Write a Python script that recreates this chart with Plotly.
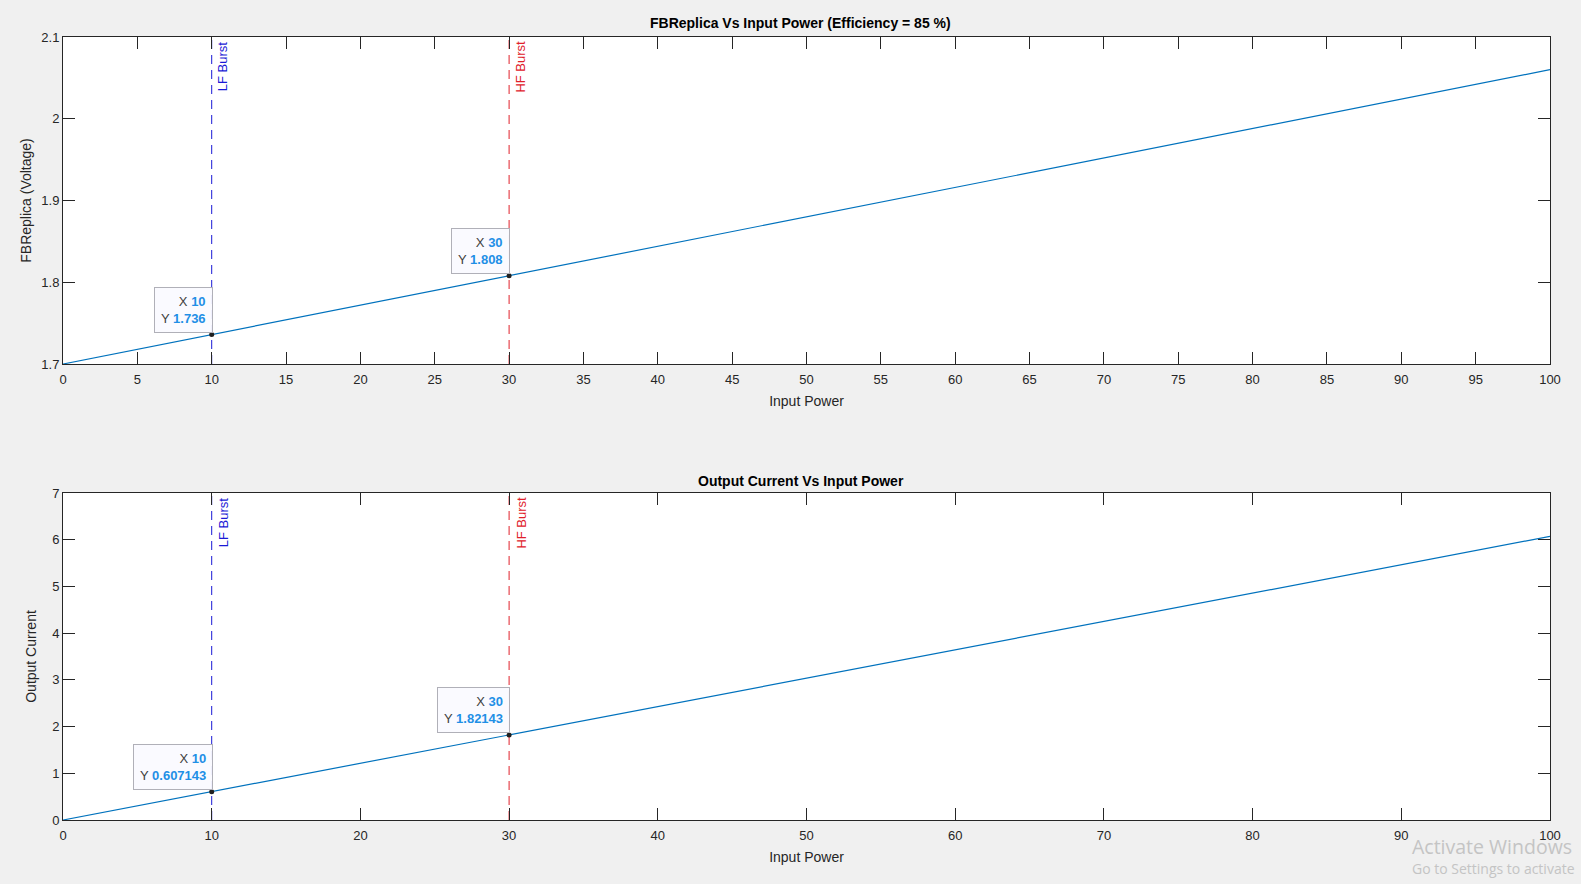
import plotly.graph_objects as go

# ---- data ----
input_power = [0, 10, 30, 100]
fb_replica = [1.7, 1.736, 1.808, 2.06]
output_current = [0, 0.607143, 1.82143, 6.07143]

tip_x = [10, 30]
tip_fb = [1.736, 1.808]
tip_fb_txt = ["1.736", "1.808"]
tip_cur = [0.607143, 1.82143]
tip_cur_txt = ["0.607143", "1.82143"]

burst_x = [10, 30]
burst_names = ["LF Burst", "HF Burst"]
burst_colors = ["#1a1ad6", "#e0202a"]

x_ticks_top = list(range(0, 101, 5))
x_ticks_bot = list(range(0, 101, 10))
y_ticks_top = [1.7, 1.8, 1.9, 2.0, 2.1]
y_tick_labels_top = ["1.7", "1.8", "1.9", "2", "2.1"]
y_ticks_bot = [0, 1, 2, 3, 4, 5, 6, 7]

LINE = "#0072BD"
AX = "#262626"
FONT = "Liberation Sans, Arial, sans-serif"
TIPVAL = "#1f8fe6"

fig = go.Figure()
fig.add_trace(go.Scatter(x=input_power, y=fb_replica, mode="lines",
                         line=dict(color=LINE, width=1.2), xaxis="x", yaxis="y", showlegend=False))
fig.add_trace(go.Scatter(x=input_power, y=output_current, mode="lines",
                         line=dict(color=LINE, width=1.2), xaxis="x2", yaxis="y2", showlegend=False))
fig.add_trace(go.Scatter(x=tip_x, y=tip_fb, mode="markers",
                         marker=dict(color="#202020", size=5), xaxis="x", yaxis="y", showlegend=False))
fig.add_trace(go.Scatter(x=tip_x, y=tip_cur, mode="markers",
                         marker=dict(color="#202020", size=5), xaxis="x2", yaxis="y2", showlegend=False))

shapes = []
annotations = []
for xr, yr in (("x", "y"), ("x2", "y2")):
    for bx, name, col in zip(burst_x, burst_names, burst_colors):
        shapes.append(dict(type="line", xref=xr, yref=yr + " domain", x0=bx, x1=bx, y0=0, y1=1,
                           line=dict(color=col, width=1, dash="9px,6px"), layer="below"))
        annotations.append(dict(x=bx, y=1, xref=xr, yref=yr + " domain", text=name, showarrow=False,
                                textangle=-90, xanchor="left", yanchor="top", xshift=2, yshift=-2,
                                font=dict(family=FONT, size=13, color=col)))


def tip(xr, yr, xv, yv, ytxt):
    return dict(x=xv, y=yv, xref=xr, yref=yr, showarrow=False, xanchor="right", yanchor="bottom",
                align="right", xshift=1, yshift=2,
                text=f"X <b><span style='color:{TIPVAL}'>{xv}</span></b><br>Y <b><span style='color:{TIPVAL}'>{ytxt}</span></b>",
                font=dict(family=FONT, size=13, color="#404040"),
                bgcolor="rgba(250,250,255,0.95)", bordercolor="#b0b0b8", borderwidth=1, borderpad=6)


for xv, yv, t in zip(tip_x, tip_fb, tip_fb_txt):
    annotations.append(tip("x", "y", xv, yv, t))
for xv, yv, t in zip(tip_x, tip_cur, tip_cur_txt):
    annotations.append(tip("x2", "y2", xv, yv, t))

# titles
annotations.append(dict(x=0.5066, y=(884 - 23) / 884, xref="paper", yref="paper", showarrow=False,
                        text="<b>FBReplica Vs Input Power (Efficiency = 85 %)</b>", yanchor="middle",
                        font=dict(family=FONT, size=14, color="#000000")))
annotations.append(dict(x=0.5066, y=(884 - 481) / 884, xref="paper", yref="paper", showarrow=False,
                        text="<b>Output Current Vs Input Power</b>", yanchor="middle",
                        font=dict(family=FONT, size=14, color="#000000")))
# watermark
annotations.append(dict(x=1410 / 1581, y=(884 - 846) / 884, xref="paper", yref="paper", showarrow=False,
                        text="Activate Windows", xanchor="left", yanchor="middle",
                        font=dict(family="Open Sans, sans-serif", size=19.5, color="#c4c4c4")))
annotations.append(dict(x=1410 / 1581, y=(884 - 868) / 884, xref="paper", yref="paper", showarrow=False,
                        text="Go to Settings to activate", xanchor="left", yanchor="middle",
                        font=dict(family="Open Sans, sans-serif", size=14, color="#c4c4c4")))

common_axis = dict(showline=True, linecolor=AX, linewidth=1, mirror="ticks", ticks="inside",
                   ticklen=12, tickcolor=AX, tickwidth=1, showgrid=False, zeroline=False,
                   automargin=False, tickfont=dict(family=FONT, size=13, color=AX))

x_dom = [63 / 1581, 1550 / 1581]
fig.update_layout(
    template="none",
    width=1581, height=884, margin=dict(l=0, r=0, t=0, b=0, pad=0),
    paper_bgcolor="#f0f0f0", plot_bgcolor="#ffffff",
    font=dict(family=FONT, color=AX),
    xaxis=dict(domain=x_dom, range=[0, 100], tickvals=x_ticks_top, anchor="y", ticklabelstandoff=3,
               title=dict(text="Input Power", font=dict(family=FONT, size=14, color=AX), standoff=10),
               **common_axis),
    yaxis=dict(domain=[(884 - 364) / 884, (884 - 37) / 884], range=[1.7, 2.1], tickvals=y_ticks_top,
               ticktext=y_tick_labels_top, anchor="x",
               title=dict(text="FBReplica (Voltage)", font=dict(family=FONT, size=14, color=AX), standoff=6),
               **common_axis),
    xaxis2=dict(domain=x_dom, range=[0, 100], tickvals=x_ticks_bot, anchor="y2", ticklabelstandoff=3,
                title=dict(text="Input Power", font=dict(family=FONT, size=14, color=AX), standoff=10),
                **common_axis),
    yaxis2=dict(domain=[(884 - 820) / 884, (884 - 493) / 884], range=[0, 7], tickvals=y_ticks_bot,
                anchor="x2",
                title=dict(text="Output Current", font=dict(family=FONT, size=14, color=AX), standoff=12),
                **common_axis),
    shapes=shapes, annotations=annotations,
)

fig.write_html("out.html")
